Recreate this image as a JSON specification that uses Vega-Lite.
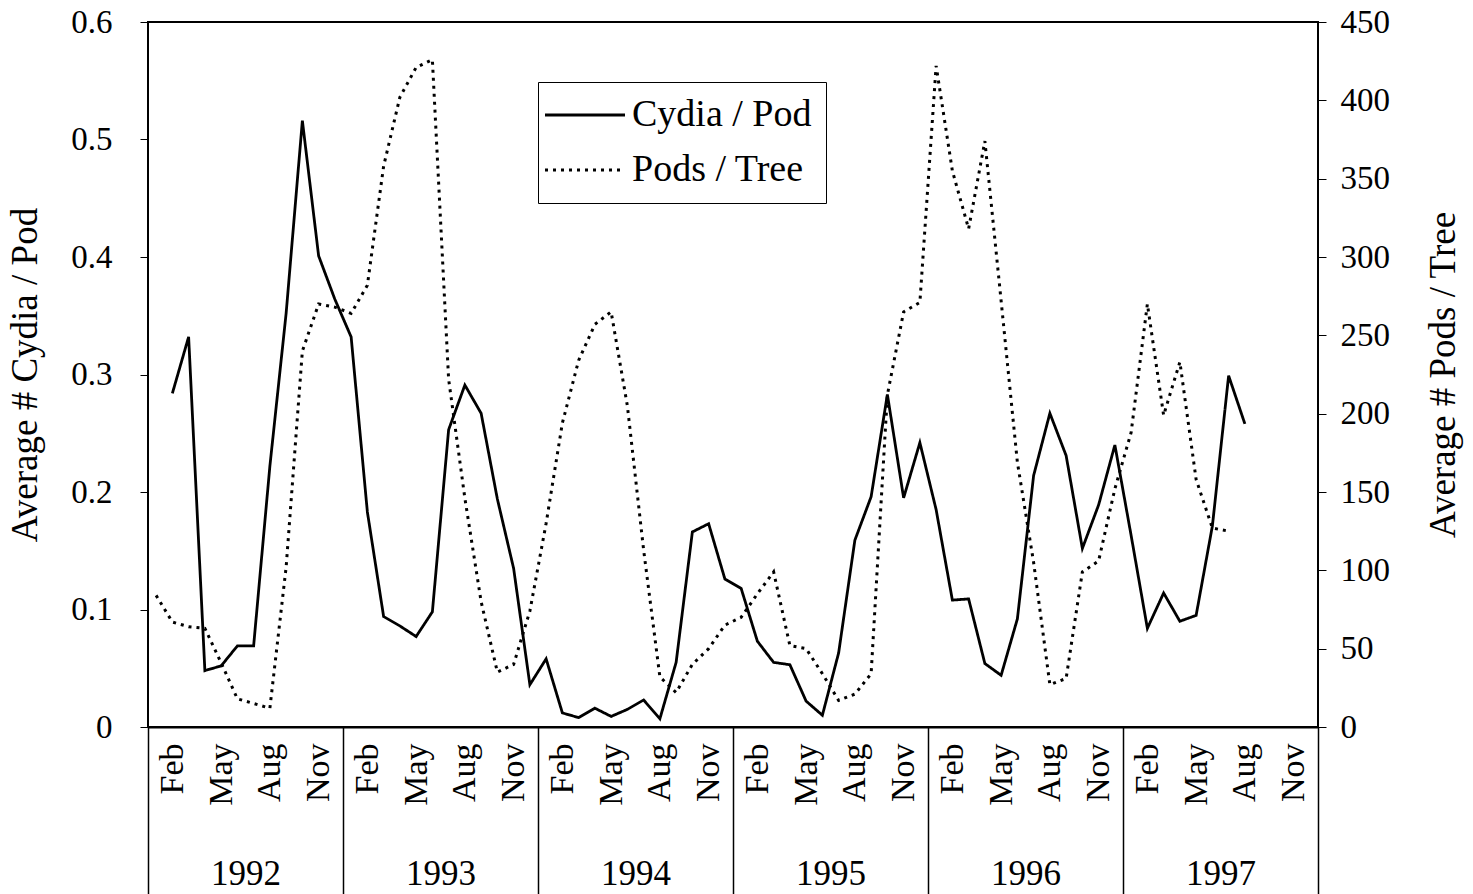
{
  "$schema": "https://vega.github.io/schema/vega-lite/v6.json",
  "width": 1170,
  "height": 705,
  "autosize": {"type": "none"},
  "padding": {"left": 148, "top": 22, "right": 155, "bottom": 167},
  "background": "white",
  "config": {
    "view": {"stroke": "black", "strokeWidth": 2},
    "font": "Liberation Serif",
    "axis": {
      "labelFont": "Liberation Serif",
      "titleFont": "Liberation Serif",
      "labelColor": "black",
      "titleColor": "black",
      "titleFontWeight": "normal",
      "grid": false,
      "domainColor": "black",
      "tickColor": "black",
      "labelFlush": false,
      "labelOverlap": false
    }
  },
  "data": {
    "values": [
      {"idx": 0, "year": 1992, "month": "Jan", "pods": 84},
      {"idx": 1, "year": 1992, "month": "Feb", "cydia": 0.284, "pods": 67},
      {"idx": 2, "year": 1992, "month": "Mar", "cydia": 0.332, "pods": 64},
      {"idx": 3, "year": 1992, "month": "Apr", "cydia": 0.048, "pods": 63},
      {"idx": 4, "year": 1992, "month": "May", "cydia": 0.052, "pods": 41},
      {"idx": 5, "year": 1992, "month": "Jun", "cydia": 0.069, "pods": 18},
      {"idx": 6, "year": 1992, "month": "Jul", "cydia": 0.069, "pods": 15},
      {"idx": 7, "year": 1992, "month": "Aug", "cydia": 0.222, "pods": 12},
      {"idx": 8, "year": 1992, "month": "Sep", "cydia": 0.352, "pods": 102},
      {"idx": 9, "year": 1992, "month": "Oct", "cydia": 0.516, "pods": 240},
      {"idx": 10, "year": 1992, "month": "Nov", "cydia": 0.401, "pods": 270},
      {"idx": 11, "year": 1992, "month": "Dec", "cydia": 0.364, "pods": 268},
      {"idx": 12, "year": 1993, "month": "Jan", "cydia": 0.332, "pods": 264},
      {"idx": 13, "year": 1993, "month": "Feb", "cydia": 0.183, "pods": 282},
      {"idx": 14, "year": 1993, "month": "Mar", "cydia": 0.094, "pods": 358},
      {"idx": 15, "year": 1993, "month": "Apr", "cydia": 0.086, "pods": 402},
      {"idx": 16, "year": 1993, "month": "May", "cydia": 0.077, "pods": 421},
      {"idx": 17, "year": 1993, "month": "Jun", "cydia": 0.098, "pods": 426},
      {"idx": 18, "year": 1993, "month": "Jul", "cydia": 0.253, "pods": 222},
      {"idx": 19, "year": 1993, "month": "Aug", "cydia": 0.291, "pods": 146},
      {"idx": 20, "year": 1993, "month": "Sep", "cydia": 0.267, "pods": 80},
      {"idx": 21, "year": 1993, "month": "Oct", "cydia": 0.194, "pods": 35},
      {"idx": 22, "year": 1993, "month": "Nov", "cydia": 0.135, "pods": 40},
      {"idx": 23, "year": 1993, "month": "Dec", "cydia": 0.036, "pods": 74},
      {"idx": 24, "year": 1994, "month": "Jan", "cydia": 0.058, "pods": 130},
      {"idx": 25, "year": 1994, "month": "Feb", "cydia": 0.012, "pods": 194},
      {"idx": 26, "year": 1994, "month": "Mar", "cydia": 0.008, "pods": 234},
      {"idx": 27, "year": 1994, "month": "Apr", "cydia": 0.016, "pods": 257},
      {"idx": 28, "year": 1994, "month": "May", "cydia": 0.009, "pods": 265},
      {"idx": 29, "year": 1994, "month": "Jun", "cydia": 0.015, "pods": 205},
      {"idx": 30, "year": 1994, "month": "Jul", "cydia": 0.023, "pods": 113},
      {"idx": 31, "year": 1994, "month": "Aug", "cydia": 0.007, "pods": 32},
      {"idx": 32, "year": 1994, "month": "Sep", "cydia": 0.055, "pods": 22},
      {"idx": 33, "year": 1994, "month": "Oct", "cydia": 0.166, "pods": 40},
      {"idx": 34, "year": 1994, "month": "Nov", "cydia": 0.173, "pods": 50},
      {"idx": 35, "year": 1994, "month": "Dec", "cydia": 0.126, "pods": 65},
      {"idx": 36, "year": 1995, "month": "Jan", "cydia": 0.118, "pods": 70},
      {"idx": 37, "year": 1995, "month": "Feb", "cydia": 0.073, "pods": 85},
      {"idx": 38, "year": 1995, "month": "Mar", "cydia": 0.055, "pods": 99},
      {"idx": 39, "year": 1995, "month": "Apr", "cydia": 0.053, "pods": 52},
      {"idx": 40, "year": 1995, "month": "May", "cydia": 0.022, "pods": 50},
      {"idx": 41, "year": 1995, "month": "Jun", "cydia": 0.010, "pods": 34},
      {"idx": 42, "year": 1995, "month": "Jul", "cydia": 0.063, "pods": 17},
      {"idx": 43, "year": 1995, "month": "Aug", "cydia": 0.159, "pods": 21},
      {"idx": 44, "year": 1995, "month": "Sep", "cydia": 0.196, "pods": 34},
      {"idx": 45, "year": 1995, "month": "Oct", "cydia": 0.283, "pods": 212},
      {"idx": 46, "year": 1995, "month": "Nov", "cydia": 0.195, "pods": 265},
      {"idx": 47, "year": 1995, "month": "Dec", "cydia": 0.242, "pods": 271},
      {"idx": 48, "year": 1996, "month": "Jan", "cydia": 0.185, "pods": 422},
      {"idx": 49, "year": 1996, "month": "Feb", "cydia": 0.108, "pods": 355},
      {"idx": 50, "year": 1996, "month": "Mar", "cydia": 0.109, "pods": 318},
      {"idx": 51, "year": 1996, "month": "Apr", "cydia": 0.054, "pods": 374},
      {"idx": 52, "year": 1996, "month": "May", "cydia": 0.044, "pods": 272},
      {"idx": 53, "year": 1996, "month": "Jun", "cydia": 0.092, "pods": 169},
      {"idx": 54, "year": 1996, "month": "Jul", "cydia": 0.214, "pods": 105},
      {"idx": 55, "year": 1996, "month": "Aug", "cydia": 0.267, "pods": 27},
      {"idx": 56, "year": 1996, "month": "Sep", "cydia": 0.231, "pods": 31},
      {"idx": 57, "year": 1996, "month": "Oct", "cydia": 0.152, "pods": 99},
      {"idx": 58, "year": 1996, "month": "Nov", "cydia": 0.189, "pods": 106},
      {"idx": 59, "year": 1996, "month": "Dec", "cydia": 0.240, "pods": 152},
      {"idx": 60, "year": 1997, "month": "Jan", "cydia": 0.163, "pods": 188},
      {"idx": 61, "year": 1997, "month": "Feb", "cydia": 0.084, "pods": 270},
      {"idx": 62, "year": 1997, "month": "Mar", "cydia": 0.114, "pods": 199},
      {"idx": 63, "year": 1997, "month": "Apr", "cydia": 0.090, "pods": 233},
      {"idx": 64, "year": 1997, "month": "May", "cydia": 0.095, "pods": 158},
      {"idx": 65, "year": 1997, "month": "Jun", "cydia": 0.171, "pods": 127},
      {"idx": 66, "year": 1997, "month": "Jul", "cydia": 0.299, "pods": 125},
      {"idx": 67, "year": 1997, "month": "Aug", "cydia": 0.258},
      {"idx": 68, "year": 1997, "month": "Sep"},
      {"idx": 69, "year": 1997, "month": "Oct"},
      {"idx": 70, "year": 1997, "month": "Nov"},
      {"idx": 71, "year": 1997, "month": "Dec"}
    ]
  },
  "layer": [
    {
      "mark": {"type": "line", "color": "black", "strokeWidth": 2.8},
      "encoding": {
        "x": {
          "field": "idx",
          "type": "quantitative",
          "scale": {"domain": [-0.5, 71.5], "nice": false, "zero": false},
          "axis": {
            "orient": "bottom",
            "values": [1, 4, 7, 10, 13, 16, 19, 22, 25, 28, 31, 34, 37, 40, 43, 46, 49, 52, 55, 58, 61, 64, 67, 70],
            "labelExpr": "['Jan','Feb','Mar','Apr','May','Jun','Jul','Aug','Sep','Oct','Nov','Dec'][datum.value % 12]",
            "labelAngle": 270,
            "labelFontSize": 34,
            "labelPadding": 16,
            "ticks": false,
            "domain": false,
            "title": null
          }
        },
        "y": {
          "field": "cydia",
          "type": "quantitative",
          "scale": {"domain": [0, 0.6], "nice": false},
          "axis": {
            "values": [0, 0.1, 0.2, 0.3, 0.4, 0.5, 0.6],
            "format": ".1~f",
            "title": "Average # Cydia / Pod",
            "labelFontSize": 33,
            "titleFontSize": 37,
            "tickSize": 8,
            "labelPadding": 28,
            "titlePadding": 26,
            "domain": false
          }
        },
        "strokeDash": {
          "datum": "Cydia / Pod",
          "type": "nominal",
          "scale": {"domain": ["Cydia / Pod", "Pods / Tree"], "range": [[1, 0], [3, 5]]},
          "legend": {
            "title": null,
            "orient": "none",
            "legendX": 390,
            "legendY": 60,
            "strokeColor": "black",
            "fillColor": "white",
            "padding": 14,
            "labelFont": "Liberation Serif",
            "labelFontSize": 38,
            "labelColor": "black",
            "labelLimit": 500,
            "symbolType": "M-4,0H4",
            "symbolSize": 400,
            "symbolOffset": 14,
            "labelOffset": 28,
            "symbolStrokeWidth": 2.8,
            "symbolStrokeColor": "black",
            "rowPadding": 17
          }
        }
      }
    },
    {
      "mark": {"type": "line", "color": "black", "strokeWidth": 3},
      "encoding": {
        "x": {
          "field": "idx",
          "type": "quantitative",
          "axis": {
            "orient": "bottom",
            "values": [-0.5, 11.5, 23.5, 35.5, 47.5, 59.5, 71.5],
            "labelExpr": "datum.value < 70 ? toString(1992 + round((datum.value + 0.5) / 12)) : ''",
            "tickSize": 167,
            "tickWidth": 1.5,
            "labelOffset": 97.5,
            "labelPadding": -38,
            "labelAngle": 0,
            "labelFontSize": 35,
            "domain": true,
            "domainWidth": 2,
            "title": null
          }
        },
        "y": {
          "field": "pods",
          "type": "quantitative",
          "scale": {"domain": [0, 450], "nice": false},
          "axis": {
            "orient": "right",
            "values": [0, 50, 100, 150, 200, 250, 300, 350, 400, 450],
            "format": "d",
            "title": "Average # Pods / Tree",
            "titleAngle": 270,
            "titleBaseline": "top",
            "labelFontSize": 33,
            "titleFontSize": 37,
            "tickSize": 8,
            "labelPadding": 14,
            "titlePadding": 36,
            "domain": false
          }
        },
        "strokeDash": {"datum": "Pods / Tree", "type": "nominal"}
      }
    }
  ],
  "resolve": {
    "scale": {"y": "independent"},
    "axis": {"x": "independent", "y": "independent"}
  }
}
